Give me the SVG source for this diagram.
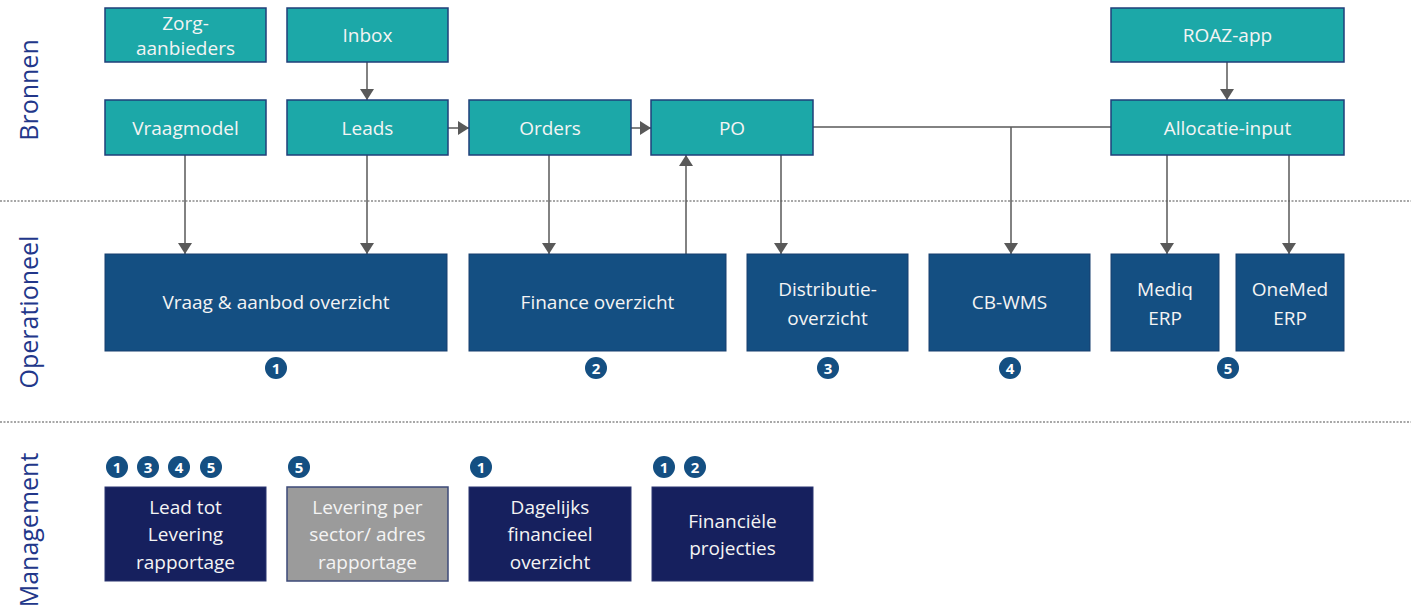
<svg xmlns="http://www.w3.org/2000/svg" width="1411" height="613" viewBox="0 0 1411 613">
<defs>
<marker id="ah" viewBox="0 0 11 14" refX="11" refY="7" markerWidth="11" markerHeight="14" markerUnits="userSpaceOnUse" orient="auto">
<path d="M0,0 L11,7 L0,14 Z" fill="#595959"/>
</marker>
<style>
.src{fill:#1ca8a8;stroke:#1f3f7a;stroke-width:1.5}
.op{fill:#144f82;stroke:#163e6e;stroke-width:1}
.mg{fill:#16205e;stroke:#2a3570;stroke-width:1}
.gr{fill:#9b9b9b;stroke:#3c4a78;stroke-width:1.5}
.t{font-family:"Open Sans","Liberation Sans",sans-serif;font-size:19px;fill:#f4f4f4;text-anchor:middle}
.side{font-family:"Open Sans","Liberation Sans",sans-serif;font-size:25px;fill:#22378a;text-anchor:middle}
.bc{fill:#144f82}
.bt{font-family:"Open Sans","Liberation Sans",sans-serif;font-size:15px;font-weight:bold;fill:#ffffff;text-anchor:middle}
.c{fill:none;stroke:#595959;stroke-width:1.5}
.sep{stroke:#8a8a8a;stroke-width:1.5;stroke-dasharray:2 1.5}
</style>
</defs>
<rect width="1411" height="613" fill="#ffffff"/>
<g id="separators">
<line class="sep" x1="0" y1="201" x2="1411" y2="201"/>
<line class="sep" x1="0" y1="422" x2="1411" y2="422"/>
</g>
<g id="lanes">
<text class="side" transform="translate(38,90) rotate(-90)">Bronnen</text>
<text class="side" transform="translate(38,312) rotate(-90)">Operationeel</text>
<text class="side" transform="translate(38,530) rotate(-90)">Management</text>
</g>
<g id="connectors">
<line class="c" x1="367" y1="62" x2="367" y2="100" marker-end="url(#ah)"/>
<line class="c" x1="448" y1="128" x2="469" y2="128" marker-end="url(#ah)"/>
<line class="c" x1="631" y1="128" x2="651" y2="128" marker-end="url(#ah)"/>
<line class="c" x1="185" y1="155" x2="185" y2="254" marker-end="url(#ah)"/>
<line class="c" x1="367" y1="155" x2="367" y2="254" marker-end="url(#ah)"/>
<line class="c" x1="549" y1="155" x2="549" y2="254" marker-end="url(#ah)"/>
<line class="c" x1="686" y1="254" x2="686" y2="155" marker-end="url(#ah)"/>
<line class="c" x1="781" y1="155" x2="781" y2="254" marker-end="url(#ah)"/>
<line class="c" x1="813" y1="127" x2="1111" y2="127"/>
<line class="c" x1="1011" y1="127" x2="1011" y2="254" marker-end="url(#ah)"/>
<line class="c" x1="1227" y1="62" x2="1227" y2="100" marker-end="url(#ah)"/>
<line class="c" x1="1167" y1="155" x2="1167" y2="254" marker-end="url(#ah)"/>
<line class="c" x1="1289" y1="155" x2="1289" y2="254" marker-end="url(#ah)"/>
</g>
<g id="zorgaanbieders"><rect class="src" x="105" y="8" width="161" height="54"/><text class="t" x="185.5" y="30">Zorg-</text><text class="t" x="185.5" y="55">aanbieders</text></g>
<g id="inbox"><rect class="src" x="287" y="8" width="161" height="54"/><text class="t" x="367.5" y="42">Inbox</text></g>
<g id="roaz"><rect class="src" x="1111" y="8" width="233" height="54"/><text class="t" x="1227.5" y="42">ROAZ-app</text></g>
<g id="vraagmodel"><rect class="src" x="105" y="100" width="161" height="55"/><text class="t" x="185.5" y="135">Vraagmodel</text></g>
<g id="leads"><rect class="src" x="287" y="100" width="161" height="55"/><text class="t" x="367.5" y="135">Leads</text></g>
<g id="orders"><rect class="src" x="469" y="100" width="162" height="55"/><text class="t" x="550" y="135">Orders</text></g>
<g id="po"><rect class="src" x="651" y="100" width="162" height="55"/><text class="t" x="732" y="135">PO</text></g>
<g id="allocatie"><rect class="src" x="1111" y="100" width="233" height="55"/><text class="t" x="1227.5" y="135">Allocatie-input</text></g>
<g id="vraagaanbod"><rect class="op" x="105" y="254" width="342" height="97"/><text class="t" x="276" y="309">Vraag &amp; aanbod overzicht</text></g>
<g id="finance"><rect class="op" x="469" y="254" width="257" height="97"/><text class="t" x="597.5" y="309">Finance overzicht</text></g>
<g id="distributie"><rect class="op" x="747" y="254" width="161" height="97"/><text class="t" x="827.5" y="296">Distributie-</text><text class="t" x="827.5" y="325">overzicht</text></g>
<g id="cbwms"><rect class="op" x="929" y="254" width="161" height="97"/><text class="t" x="1009.5" y="309">CB-WMS</text></g>
<g id="mediq"><rect class="op" x="1111" y="254" width="108" height="97"/><text class="t" x="1165" y="296">Mediq</text><text class="t" x="1165" y="325">ERP</text></g>
<g id="onemed"><rect class="op" x="1236" y="254" width="108" height="97"/><text class="t" x="1290" y="296">OneMed</text><text class="t" x="1290" y="325">ERP</text></g>
<g id="leadtot"><rect class="mg" x="105" y="487" width="161" height="94"/><text class="t" x="185.5" y="514">Lead tot</text><text class="t" x="185.5" y="541">Levering</text><text class="t" x="185.5" y="569">rapportage</text></g>
<g id="leveringsector"><rect class="gr" x="287" y="487" width="161" height="94"/><text class="t" x="367.5" y="514">Levering per</text><text class="t" x="367.5" y="541">sector/ adres</text><text class="t" x="367.5" y="569">rapportage</text></g>
<g id="dagelijks"><rect class="mg" x="469" y="487" width="162" height="94"/><text class="t" x="550" y="514">Dagelijks</text><text class="t" x="550" y="541">financieel</text><text class="t" x="550" y="569">overzicht</text></g>
<g id="financiele"><rect class="mg" x="652" y="487" width="161" height="94"/><text class="t" x="732.5" y="528">Financiële</text><text class="t" x="732.5" y="555">projecties</text></g>
<g id="badges">
<circle class="bc" cx="276" cy="368" r="11"/><text class="bt" x="276" y="373.5">1</text>
<circle class="bc" cx="596" cy="368" r="11"/><text class="bt" x="596" y="373.5">2</text>
<circle class="bc" cx="828" cy="368" r="11"/><text class="bt" x="828" y="373.5">3</text>
<circle class="bc" cx="1010" cy="368" r="11"/><text class="bt" x="1010" y="373.5">4</text>
<circle class="bc" cx="1228" cy="368" r="11"/><text class="bt" x="1228" y="373.5">5</text>
<circle class="bc" cx="117" cy="467" r="11"/><text class="bt" x="117" y="472.5">1</text>
<circle class="bc" cx="148" cy="467" r="11"/><text class="bt" x="148" y="472.5">3</text>
<circle class="bc" cx="179" cy="467" r="11"/><text class="bt" x="179" y="472.5">4</text>
<circle class="bc" cx="211" cy="467" r="11"/><text class="bt" x="211" y="472.5">5</text>
<circle class="bc" cx="299" cy="467" r="11"/><text class="bt" x="299" y="472.5">5</text>
<circle class="bc" cx="481" cy="467" r="11"/><text class="bt" x="481" y="472.5">1</text>
<circle class="bc" cx="664" cy="467" r="11"/><text class="bt" x="664" y="472.5">1</text>
<circle class="bc" cx="695" cy="467" r="11"/><text class="bt" x="695" y="472.5">2</text>
</g>
</svg>
